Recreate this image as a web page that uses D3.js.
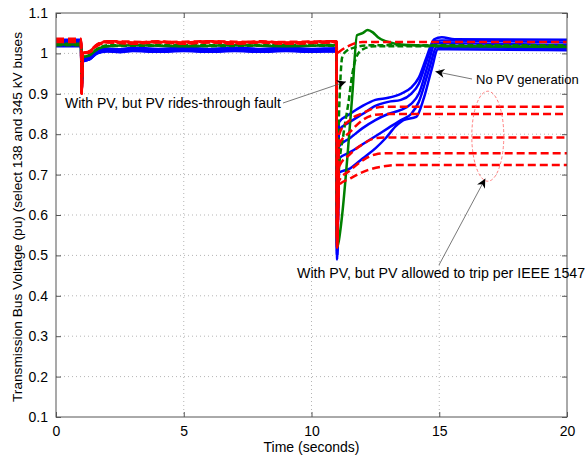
<!DOCTYPE html>
<html>
    <head>
        <title>Bus voltage</title>
        <meta charset="utf-8">
        <style>
            html, body {
                margin: 0px;
                padding: 0px;
                background-color: #fff;
                font-family: "Liberation Sans", Arial, sans-serif;
            }

            svg text {
                fill: #000;
            }

            .axis text {
                font-size: 14px;
            }

            .axis .domain {
                stroke: none;
            }

            .axis line {
                stroke: #555;
            }

            .grid line {
                stroke: #b5b5b5;
                stroke-dasharray: 1, 3;
            }

            .note {
                font-size: 14px;
            }
        </style>
        <script src="https://cdn.jsdelivr.net/npm/d3@7"></script>
    </head>
    <body>
        <div id="main"></div>

        <script>
            // axis ticks
            var xTicks = [0, 5, 10, 15, 20];
            var yTicks = [0.1, 0.2, 0.3, 0.4, 0.5, 0.6, 0.7, 0.8, 0.9, 1, 1.1];

            // No PV generation (blue solid) - [time, pu]
            var blue1 = [[0, 1.034], [0.98, 1.034], [1.0, 0.902], [1.05, 0.99], [1.3, 0.99], [1.6, 1.005], [2, 1.012], [2.5, 1.01], [3, 1.014], [4, 1.011], [5, 1.014], [6, 1.011], [7, 1.014], [8, 1.011], [9, 1.014], [10, 1.011], [10.98, 1.013], [11.0, 0.49], [11.08, 0.83], [11.5, 0.85], [12, 0.87], [12.5, 0.885], [13, 0.89], [13.5, 0.9], [13.9, 0.915], [14.2, 0.94], [14.5, 0.99], [14.8, 1.035], [15.1, 1.04], [15.6, 1.035], [20, 1.034]];
            var blue2 = [[0, 1.03], [0.98, 1.03], [1.0, 0.905], [1.05, 0.985], [1.3, 0.988], [1.6, 1.003], [2, 1.01], [2.5, 1.007], [3, 1.011], [4, 1.008], [5, 1.011], [6, 1.008], [7, 1.011], [8, 1.008], [9, 1.011], [10, 1.008], [10.98, 1.01], [11.0, 0.5], [11.08, 0.81], [11.5, 0.83], [12, 0.85], [12.5, 0.87], [13, 0.88], [13.5, 0.885], [13.9, 0.9], [14.2, 0.925], [14.5, 0.98], [14.8, 1.03], [15.1, 1.032], [20, 1.027]];
            var blue3 = [[0, 1.026], [0.98, 1.026], [1.0, 0.91], [1.05, 0.98], [1.3, 0.985], [1.6, 1.0], [2, 1.008], [2.5, 1.005], [3, 1.009], [4, 1.006], [5, 1.009], [6, 1.006], [7, 1.009], [8, 1.006], [9, 1.009], [10, 1.006], [10.98, 1.008], [11.0, 0.5], [11.08, 0.77], [11.5, 0.79], [12, 0.815], [12.5, 0.835], [13, 0.85], [13.5, 0.86], [13.9, 0.875], [14.2, 0.9], [14.55, 0.97], [14.85, 1.025], [15.2, 1.025], [20, 1.02]];
            var blue4 = [[0, 1.022], [0.98, 1.022], [1.0, 0.91], [1.05, 0.98], [1.3, 0.985], [1.6, 1.0], [2, 1.006], [2.5, 1.004], [3, 1.007], [4, 1.005], [5, 1.007], [6, 1.005], [7, 1.007], [8, 1.005], [9, 1.007], [10, 1.005], [10.98, 1.006], [11.0, 0.51], [11.08, 0.74], [11.5, 0.755], [12, 0.775], [12.5, 0.795], [13, 0.815], [13.5, 0.835], [13.9, 0.85], [14.2, 0.88], [14.6, 0.96], [14.9, 1.015], [15.3, 1.015], [20, 1.012]];
            var blue5 = [[0, 1.018], [0.98, 1.018], [1.0, 0.915], [1.05, 0.98], [1.3, 0.985], [1.6, 1.0], [2, 1.005], [2.5, 1.003], [3, 1.006], [4, 1.004], [5, 1.006], [6, 1.004], [7, 1.006], [8, 1.004], [9, 1.006], [10, 1.004], [10.98, 1.005], [11.0, 0.51], [11.08, 0.705], [11.5, 0.715], [12, 0.74], [12.5, 0.765], [12.9, 0.79], [13.3, 0.82], [13.6, 0.835], [14.1, 0.843], [14.4, 0.89], [14.7, 0.96], [14.95, 1.01], [15.3, 1.01], [20, 1.008]];

            // With PV, PV rides through (green)
            var greenSolid = [[0, 1.022], [0.98, 1.022], [1.0, 0.92], [1.05, 0.99], [1.3, 0.995], [1.6, 1.01], [2, 1.018], [3, 1.02], [5, 1.018], [7, 1.02], [9, 1.018], [10.98, 1.02], [11.0, 0.52], [11.05, 0.53], [11.2, 0.6], [11.4, 0.74], [11.6, 0.9], [11.78, 1.045], [12.0, 1.05], [12.2, 1.058], [12.4, 1.052], [12.6, 1.04], [12.9, 1.03], [13.3, 1.024], [14, 1.02], [16, 1.018], [20, 1.016]];
            var greenDash1 = [[0, 1.024], [0.98, 1.024], [1.0, 0.92], [1.05, 0.99], [1.3, 0.995], [1.6, 1.01], [2, 1.02], [4, 1.021], [6, 1.02], [8, 1.021], [10.98, 1.021], [11.0, 0.6], [11.06, 0.81], [11.12, 0.92], [11.2, 0.99], [11.35, 1.005], [11.7, 1.015], [12.2, 1.02], [20, 1.02]];
            var greenDash2 = [[0, 1.02], [0.98, 1.02], [1.0, 0.92], [1.05, 0.99], [1.3, 0.995], [1.6, 1.01], [2, 1.018], [4, 1.019], [6, 1.018], [8, 1.019], [10.98, 1.019], [11.0, 0.55], [11.06, 0.7], [11.25, 0.8], [11.45, 0.88], [11.6, 0.95], [11.75, 0.99], [12.0, 1.01], [12.5, 1.018], [20, 1.018]];

            // With PV, PV allowed to trip (red dashed)
            var red1 = [[0, 1.036], [0.98, 1.036], [1.0, 0.9], [1.05, 1.0], [1.3, 1.005], [1.6, 1.022], [2, 1.03], [3, 1.027], [4, 1.03], [5, 1.027], [6, 1.03], [7, 1.027], [8, 1.03], [9, 1.027], [10.98, 1.03], [11.0, 0.52], [11.08, 0.8], [11.5, 0.835], [12, 0.852], [12.5, 0.865], [13, 0.868], [20, 0.868]];
            var red2 = [[0, 1.032], [0.98, 1.032], [1.0, 0.9], [1.05, 1.0], [1.3, 1.003], [1.6, 1.02], [2, 1.028], [3, 1.025], [4, 1.028], [5, 1.025], [6, 1.028], [7, 1.025], [8, 1.028], [9, 1.025], [10.98, 1.028], [11.0, 0.52], [11.08, 0.775], [11.5, 0.805], [12, 0.835], [12.5, 0.848], [13, 0.85], [20, 0.85]];
            var red3 = [[0, 1.028], [0.98, 1.028], [1.0, 0.9], [1.05, 1.0], [1.3, 1.002], [1.6, 1.018], [2, 1.027], [3, 1.024], [4, 1.027], [5, 1.024], [6, 1.027], [7, 1.024], [8, 1.027], [9, 1.024], [10.98, 1.027], [11.0, 0.52], [11.08, 0.72], [11.5, 0.75], [12, 0.775], [12.5, 0.79], [13, 0.792], [20, 0.792]];
            var red4 = [[0, 1.034], [0.98, 1.034], [1.0, 0.9], [1.05, 1.0], [1.3, 1.004], [1.6, 1.021], [2, 1.029], [3, 1.026], [4, 1.029], [5, 1.026], [6, 1.029], [7, 1.026], [8, 1.029], [9, 1.026], [10.98, 1.029], [11.0, 0.53], [11.08, 0.685], [11.5, 0.71], [12, 0.735], [12.5, 0.75], [13, 0.753], [20, 0.753]];
            var red5 = [[0, 1.03], [0.98, 1.03], [1.0, 0.9], [1.05, 1.0], [1.3, 1.003], [1.6, 1.02], [2, 1.028], [3, 1.025], [4, 1.028], [5, 1.025], [6, 1.028], [7, 1.025], [8, 1.028], [9, 1.025], [10.98, 1.028], [11.0, 0.53], [11.08, 0.675], [11.5, 0.69], [12.2, 0.711], [13, 0.722], [13.5, 0.724], [20, 0.724]];
            var red6 = [[0, 1.03], [0.98, 1.03], [1.0, 0.905], [1.05, 1.0], [1.3, 1.005], [1.6, 1.02], [2, 1.03], [4, 1.028], [6, 1.03], [8, 1.028], [10.98, 1.03], [11.0, 1.0], [11.1, 1.005], [11.5, 1.02], [12, 1.028], [20, 1.028]];

            var blueSeries = [blue1, blue2, blue3, blue4, blue5];
            var greenDashed = [greenDash1, greenDash2];
            var redSeries = [red1, red2, red3, red4, red5, red6];

            function chart(svg) {
                var x = d3.scaleLinear()
                            .domain([0, 20])
                            .range([margin.left, width - margin.right]);

                var y = d3.scaleLinear()
                            .domain([0.1, 1.1])
                            .range([height - margin.bottom, margin.top]);

                var line = d3.line()
                    .x(function(d) { return x(d[0]); })
                    .y(function(d) { return y(d[1]); })
                    .curve(d3.curveMonotoneX);

                // grid
                svg.append("g")
                    .attr("class", "grid")
                    .selectAll("line.gx")
                    .data(xTicks.slice(1, -1))
                    .enter()
                    .append("line")
                    .attr("x1", function(d) { return x(d); })
                    .attr("x2", function(d) { return x(d); })
                    .attr("y1", y(1.1))
                    .attr("y2", y(0.1));

                svg.append("g")
                    .attr("class", "grid")
                    .selectAll("line.gy")
                    .data(yTicks.slice(1, -1))
                    .enter()
                    .append("line")
                    .attr("x1", x(0))
                    .attr("x2", x(20))
                    .attr("y1", function(d) { return y(d); })
                    .attr("y2", function(d) { return y(d); });

                svg.append("clipPath")
                    .attr("id", "plotclip")
                    .append("rect")
                    .attr("x", x(0))
                    .attr("y", y(1.1))
                    .attr("width", x(20) - x(0))
                    .attr("height", y(0.1) - y(1.1));

                var plot = svg.append("g").attr("clip-path", "url(#plotclip)");

                plot.selectAll("path.blue")
                    .data(blueSeries)
                    .enter()
                    .append("path")
                    .attr("d", line)
                    .attr("fill", "none")
                    .attr("stroke", "#0000ff")
                    .attr("stroke-width", 2.5);

                plot.append("path")
                    .attr("d", line(greenSolid))
                    .attr("fill", "none")
                    .attr("stroke", "#008000")
                    .attr("stroke-width", 2.5);

                plot.selectAll("path.greendash")
                    .data(greenDashed)
                    .enter()
                    .append("path")
                    .attr("d", line)
                    .attr("fill", "none")
                    .attr("stroke", "#008000")
                    .attr("stroke-width", 2.5)
                    .attr("stroke-dasharray", "6,3");

                plot.selectAll("path.red")
                    .data(redSeries)
                    .enter()
                    .append("path")
                    .attr("d", line)
                    .attr("fill", "none")
                    .attr("stroke", "#ff0000")
                    .attr("stroke-width", 2.5)
                    .attr("stroke-dasharray", "8,4");

                // dashed ellipse around the tripping curves
                plot.append("ellipse")
                    .attr("cx", x(16.9))
                    .attr("cy", y(0.795))
                    .attr("rx", 16)
                    .attr("ry", 45)
                    .attr("fill", "none")
                    .attr("stroke", "#ff6060")
                    .attr("stroke-width", 0.8)
                    .attr("stroke-dasharray", "3,2");

                // box
                svg.append("rect")
                    .attr("x", x(0))
                    .attr("y", y(1.1))
                    .attr("width", x(20) - x(0))
                    .attr("height", y(0.1) - y(1.1))
                    .attr("fill", "none")
                    .attr("stroke", "#555")
                    .attr("stroke-width", 1);

                svg.append("g")
                    .attr("class", "axis")
                    .attr("transform", "translate(0," + y(0.1) + ")")
                    .call(d3.axisBottom(x).tickValues(xTicks).tickSizeInner(-5).tickSizeOuter(0).tickPadding(9));

                svg.append("g")
                    .attr("class", "axis")
                    .attr("transform", "translate(0," + y(1.1) + ")")
                    .call(d3.axisTop(x).tickValues(xTicks).tickSizeInner(-5).tickSizeOuter(0).tickFormat(""));

                svg.append("g")
                    .attr("class", "axis")
                    .attr("transform", "translate(" + x(0) + ",0)")
                    .call(d3.axisLeft(y).tickValues(yTicks).tickSizeInner(-5).tickSizeOuter(0).tickPadding(8)
                        .tickFormat(function(d) { return d3.format("~g")(d); }));

                svg.append("g")
                    .attr("class", "axis")
                    .attr("transform", "translate(" + x(20) + ",0)")
                    .call(d3.axisRight(y).tickValues(yTicks).tickSizeInner(-5).tickSizeOuter(0).tickFormat(""));

                // axis titles
                svg.append("text")
                    .attr("x", (x(0) + x(20)) / 2)
                    .attr("y", 452)
                    .style("font-size", "14px")
                    .style("text-anchor", "middle")
                    .text("Time (seconds)");

                svg.append("text")
                    .attr("transform", "translate(22," + (y(0.6) + 2) + ") rotate(-90)")
                    .style("font-size", "13.7px")
                    .style("text-anchor", "middle")
                    .text("Transmission Bus Voltage (pu) (select 138 and 345 kV buses");

                // annotations
                svg.append("defs").append("marker")
                    .attr("id", "arrow")
                    .attr("viewBox", "0 0 10 10")
                    .attr("refX", 10)
                    .attr("refY", 5)
                    .attr("markerWidth", 11)
                    .attr("markerHeight", 9)
                    .attr("markerUnits", "userSpaceOnUse")
                    .attr("orient", "auto")
                    .append("path")
                    .attr("d", "M0,0 L10,5 L0,10 L3,5 Z")
                    .attr("fill", "#000");

                var notes = [
                    { text: "No PV generation", tx: 476, ty: 84, size: 13, from: [472, 79], to: [14.85, 0.955] },
                    { text: "With PV, but PV rides-through fault", tx: 65, ty: 108, size: 14, from: [283, 103], to: [11.35, 0.93] },
                    { text: "With PV, but PV allowed to trip per IEEE 1547", tx: 297, ty: 278, size: 14.2, from: [439, 265], to: [16.8, 0.69] }
                ];

                notes.forEach(function(n) {
                    svg.append("line")
                        .attr("x1", n.from[0])
                        .attr("y1", n.from[1])
                        .attr("x2", x(n.to[0]))
                        .attr("y2", y(n.to[1]))
                        .attr("stroke", "#555")
                        .attr("stroke-width", 0.8)
                        .attr("marker-end", "url(#arrow)");

                    svg.append("text")
                        .attr("class", "note")
                        .attr("x", n.tx)
                        .attr("y", n.ty)
                        .style("font-size", n.size + "px")
                        .text(n.text);
                });
            }

            var width = 585;
            var height = 458;
            var margin = { top: 13, right: 18, bottom: 41, left: 56 };

            var svg = d3.select("#main")
                        .append("svg")
                        .attr("width", width)
                        .attr("height", height);

            chart(svg);
        </script>
    </body>
</html>
